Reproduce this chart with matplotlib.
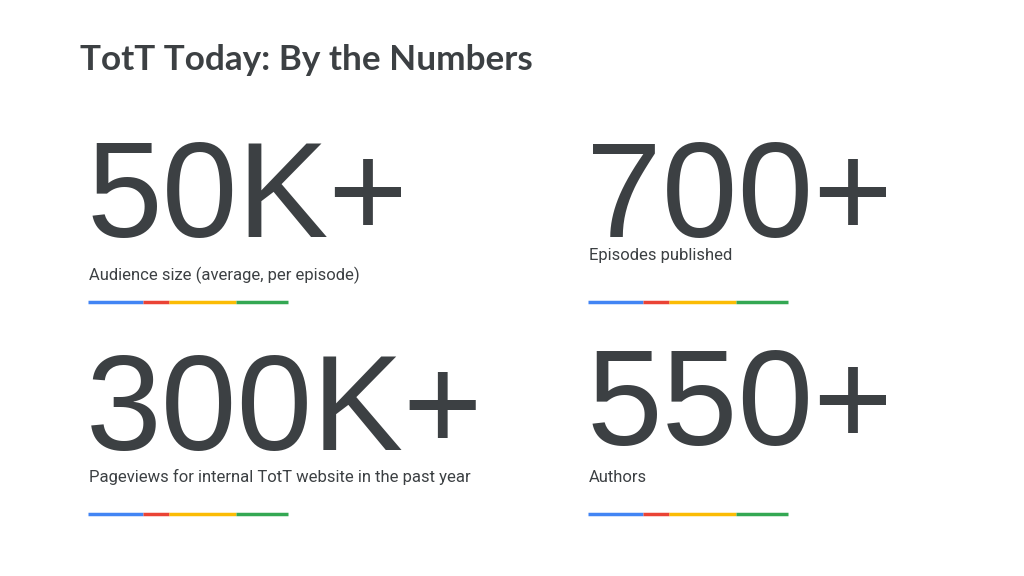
import matplotlib.pyplot as plt

title = 'TotT Today: By the Numbers'
big_numbers = ['50K+', '700+', '300K+', '550+']
captions = ['Audience size (average, per episode)', 'Episodes published',
            'Pageviews for internal TotT website in the past year', 'Authors']
# underline segments (relative lengths) and colours
seg_lengths = [55, 26, 67, 52]
seg_colors = ['#4285f4', '#ea4335', '#fbbc04', '#34a853']

# layout: x, number baseline, caption baseline, bar y
layout = [(88, 237, 280, 302), (588, 237, 260, 302),
          (88, 450, 482, 514), (588, 445, 482, 514)]

fig = plt.figure(figsize=(10.24, 5.76), dpi=100)
ax = fig.add_axes([0, 0, 1, 1])
ax.set_xlim(0, 1024)
ax.set_ylim(576, 0)
ax.axis('off')

dark = '#3c4043'
ax.text(80, 70, title, fontsize=25.3, fontweight='bold', family='Lato', color=dark,
        va='baseline')

for num, cap, (x, yn, yc, yb) in zip(big_numbers, captions, layout):
    ax.text(x - 2, yn, num, fontsize=98, family='Liberation Sans', color=dark,
            va='baseline')
    ax.text(x + 1, yc, cap, fontsize=12, family='Roboto', color=dark, va='baseline')
    start = x
    for length, c in zip(seg_lengths, seg_colors):
        ax.plot([start, start + length], [yb, yb], color=c, lw=2.5,
                solid_capstyle='butt')
        start += length

fig.savefig('out.png', dpi=100)
